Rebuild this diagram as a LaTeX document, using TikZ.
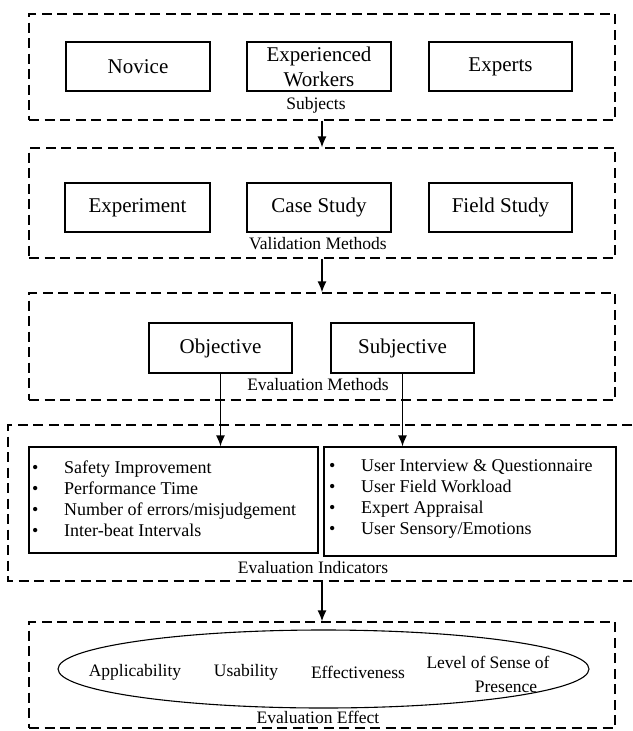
\documentclass[tikz,border=0pt]{standalone}
\usepackage{fontspec}
\setmainfont{Liberation Serif}
\usetikzlibrary{arrows.meta,shapes.geometric}
\begin{document}
\begin{tikzpicture}[x=1pt,y=-1pt,
  dbox/.style={draw, line width=1.2pt, dash pattern=on 10pt off 5.5pt, inner sep=0pt},
  sbox/.style={draw, line width=1.1pt, minimum width=143pt, minimum height=49pt, inner sep=0pt, align=center, font=\fontsize{21}{25}\selectfont},
  lbl/.style={font=\fontsize{17.5}{20}\selectfont, inner sep=0pt},
  itm/.style={font=\fontsize{18}{21}\selectfont, align=left, anchor=west, inner sep=0pt},
  arr/.style={line width=1.5pt, -{Latex[length=11pt,width=9pt]}}
]
\useasboundingbox (0,0) rectangle (632,731);
% group frames
\node[dbox, minimum width=586pt, minimum height=106pt] (g1) at (322,67) {};
\node[dbox, minimum width=586pt, minimum height=110pt] (g2) at (322,203) {};
\node[dbox, minimum width=586pt, minimum height=107pt] (g3) at (322,346.5) {};
\draw[line width=1.2pt, dash pattern=on 10pt off 5.5pt] (632,425) -- (8,425) -- (8,581) -- (632,581);
\coordinate (g4s) at (322,581);
\node[dbox, minimum width=586pt, minimum height=106pt] (g5) at (322,675) {};
% subjects
\node[sbox, minimum width=144pt] (nov) at (138,66.5) {Novice};
\node[sbox, minimum width=144pt] (exw) at (319,66.5) {Experienced\\Workers};
\node[sbox] (exp) at (500.5,66.5) {Experts};
\node[lbl] (l1) at (316,105) {Subjects};
% validation methods
\node[sbox, minimum width=145pt] (ex) at (137.5,207.5) {Experiment};
\node[sbox, minimum width=144pt] (cs) at (319,207.5) {Case Study};
\node[sbox] (fs) at (500.5,207.5) {Field Study};
\node[lbl] (l2) at (318,244) {Validation Methods};
% evaluation methods
\node[sbox, minimum height=50pt] (obj) at (220.5,348) {Objective};
\node[sbox, minimum height=50pt] (sub) at (402.5,348) {Subjective};
\node[lbl] (l3) at (318,385) {Evaluation Methods};
% indicators
\node[draw, line width=1.1pt, minimum width=289pt, minimum height=106pt, inner sep=0pt] (ind1) at (173.5,500) {};
\node[draw, line width=1.1pt, minimum width=292pt, minimum height=109pt, inner sep=0pt] (ind2) at (470,501.5) {};
\node[itm] (t1) at (32,498.5) {\makebox[32pt][l]{•}Safety Improvement\\\makebox[32pt][l]{•}Performance Time\\\makebox[32pt][l]{•}Number of errors/misjudgement\\\makebox[32pt][l]{•}Inter-beat Intervals};
\node[itm] (t2) at (329,498.5) {\makebox[32pt][l]{•}User Interview \& Questionnaire\\\makebox[32pt][l]{•}User Field Workload\\\makebox[32pt][l]{•}Expert Appraisal\\\makebox[32pt][l]{•}User Sensory/Emotions};
\node[lbl] (l4) at (313,568) {Evaluation Indicators};
% evaluation effect
\node[draw, ellipse, line width=1.1pt, minimum width=531pt, minimum height=78pt, inner sep=0pt] (ell) at (323.5,669) {};
\node[lbl] (e1) at (135,672) {Applicability};
\node[lbl] (e2) at (246,672) {Usability};
\node[lbl] (e3) at (358,672) {Effectiveness};
\node[lbl] (e4) at (488,662) {Level of Sense of};
\node[lbl] (e5) at (506,687) {Presence};
\node[lbl] (l5) at (318,717) {Evaluation Effect};
% connectors
\draw[arr] (g1.south) -- (g2.north);
\draw[arr] (g2.south) -- (g3.north);
\draw[arr] (obj.south) -- (obj.south |- ind1.north);
\draw[arr] (sub.south) -- (sub.south |- ind2.north);
\draw[arr] (g4s) -- (g5.north);
\end{tikzpicture}
\end{document}
